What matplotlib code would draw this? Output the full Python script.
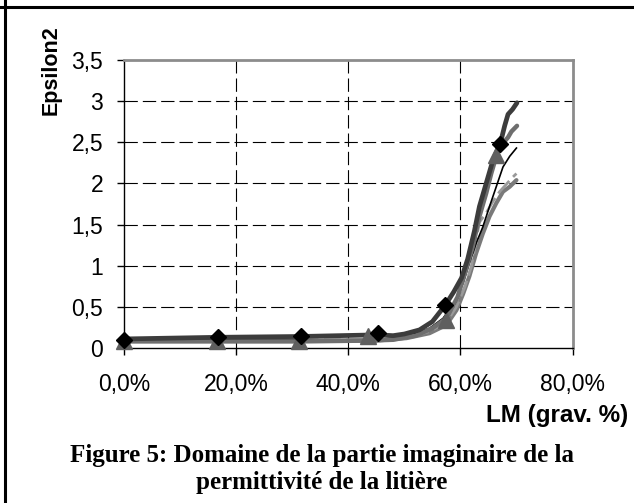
import matplotlib
matplotlib.use("Agg")
import matplotlib.pyplot as plt
from matplotlib.lines import Line2D

# ---- data ----
# measured points (markers)
diam_x = [0.0, 16.7, 31.5, 45.3, 57.3, 67.1]
diam_y = [0.10, 0.13, 0.14, 0.18, 0.52, 2.48]
tri_x = [0.0, 16.5, 31.3, 43.5, 57.5, 66.4]
tri_y = [0.09, 0.09, 0.09, 0.15, 0.34, 2.35]

# curves
a_x = [0.0, 16.7, 31.5, 45.3, 48.0, 50.0, 52.7, 55.0, 57.3, 58.8, 60.2, 61.3, 62.5, 63.4, 64.6, 65.8, 67.1, 67.9, 68.5, 69.3, 70.1]
a_y = [0.11, 0.13, 0.14, 0.16, 0.15, 0.17, 0.22, 0.32, 0.52, 0.68, 0.85, 1.08, 1.42, 1.72, 2.00, 2.28, 2.48, 2.70, 2.84, 2.90, 2.98]
b_x = [0.0, 16.5, 31.3, 43.5, 48.0, 52.0, 55.0, 57.5, 59.5, 60.8, 62.2, 63.4, 64.6, 65.5, 66.4, 67.5, 68.5, 69.1, 70.1]
b_y = [0.08, 0.08, 0.08, 0.09, 0.10, 0.15, 0.24, 0.36, 0.62, 0.91, 1.23, 1.60, 1.88, 2.12, 2.33, 2.48, 2.56, 2.63, 2.70]
c_x = [0.0, 45.0, 50.0, 54.5, 56.9, 59.0, 60.5, 61.6, 62.8, 64.0, 65.2, 66.4, 67.6, 68.8, 70.0]
c_y = [0.10, 0.10, 0.13, 0.24, 0.36, 0.56, 0.79, 1.03, 1.27, 1.47, 1.72, 1.96, 2.20, 2.33, 2.43]
d_x = [0.0, 45.0, 50.4, 54.5, 57.5, 59.3, 60.5, 61.6, 62.8, 64.0, 65.2, 66.4, 67.6, 68.8, 70.0]
d_y = [0.09, 0.09, 0.12, 0.18, 0.28, 0.46, 0.66, 0.87, 1.15, 1.39, 1.60, 1.76, 1.90, 1.96, 2.04]
e_x = [0.0, 45.0, 50.0, 54.5, 57.5, 59.3, 60.8, 62.0, 63.4, 64.6, 65.8, 67.0, 68.2, 69.1, 70.0]
e_y = [0.10, 0.10, 0.12, 0.20, 0.31, 0.50, 0.74, 1.00, 1.53, 1.64, 1.78, 1.90, 1.99, 2.06, 2.12]

x_ticks = [0, 20, 40, 60, 80]
x_labels = ["0,0%", "20,0%", "40,0%", "60,0%", "80,0%"]
y_ticks = [0, 0.5, 1, 1.5, 2, 2.5, 3, 3.5]
y_labels = ["0", "0,5", "1", "1,5", "2", "2,5", "3", "3,5"]

W, H = 634, 503
fig = plt.figure(figsize=(W / 100, H / 100), dpi=100)
fig.patch.set_facecolor("white")

left, right, top, bottom = 124, 572.5, 60, 348
ax = fig.add_axes([left / W, 1 - bottom / H, (right - left) / W, (bottom - top) / H])

ax.set_xlim(0, 80)
ax.set_ylim(0, 3.5)

# gridlines
for yv in y_ticks[1:-1]:
    ax.axhline(yv, color="black", lw=0.8, dashes=(12, 4.5), zorder=1)
for xv in x_ticks[1:-1]:
    ax.axvline(xv, color="black", lw=0.8, dashes=(12, 4.5), zorder=1)

ax.plot(d_x, d_y, color="#7a7a7a", lw=3.0, zorder=3, solid_capstyle="round")
ax.plot(e_x, e_y, color="#9a9a9a", lw=2.0, dashes=(6, 2), zorder=3)
ax.plot(c_x, c_y, color="black", lw=1.2, zorder=4)
ax.plot(b_x, b_y, color="#6e6e6e", lw=3.2, zorder=4, solid_capstyle="round")
ax.plot(a_x, a_y, color="#3c3c3c", lw=3.4, zorder=5, solid_capstyle="round")

ax.plot(tri_x, tri_y, linestyle="none", marker="^", ms=11, color="#5f5f5f",
        zorder=6, clip_on=False)
ax.plot(diam_x, diam_y, linestyle="none", marker="D", ms=8.5, color="black",
        zorder=7, clip_on=False)

ax.set_xticks(x_ticks)
ax.set_xticklabels(x_labels)
ax.set_yticks(y_ticks)
ax.set_yticklabels(y_labels)

for lab in ax.get_xticklabels() + ax.get_yticklabels():
    lab.set_fontfamily("Liberation Sans")
    lab.set_fontsize(16.5)

ax.tick_params(axis="both", direction="out", length=5, width=1, color="black")
ax.tick_params(axis="y", pad=10)
ax.tick_params(axis="x", pad=13)

ax.spines["left"].set_color("black")
ax.spines["bottom"].set_color("black")
ax.spines["left"].set_linewidth(1.0)
ax.spines["bottom"].set_linewidth(1.0)
ax.spines["top"].set_color("#8c8c8c")
ax.spines["right"].set_color("#8c8c8c")
ax.spines["top"].set_linewidth(2.0)
ax.spines["right"].set_linewidth(2.0)

# axis titles
fig.text(51 / W, 1 - 70 / H, "Epsilon2", rotation=90, ha="center", va="center",
         fontsize=15.5, fontweight="bold", family="Liberation Sans")
fig.text(628 / W, 1 - 422 / H, "LM (grav. %)", ha="right", va="baseline",
         fontsize=17.5, fontweight="bold", family="Liberation Sans")

# caption
fig.text(322 / W, 1 - 462 / H, "Figure 5: Domaine de la partie imaginaire de la",
         ha="center", va="baseline", fontsize=18, fontweight="bold",
         family="Liberation Serif")
fig.text(322 / W, 1 - 489 / H, "permittivité de la litière",
         ha="center", va="baseline", fontsize=18, fontweight="bold",
         family="Liberation Serif")

# page frame lines
fig.add_artist(Line2D([0, 1], [1 - 7 / H, 1 - 7 / H], transform=fig.transFigure,
                      color="black", lw=2.2))
fig.add_artist(Line2D([5 / W, 5 / W], [0, 1], transform=fig.transFigure,
                      color="black", lw=2.2))

fig.savefig("out.png", dpi=100, facecolor="white")
